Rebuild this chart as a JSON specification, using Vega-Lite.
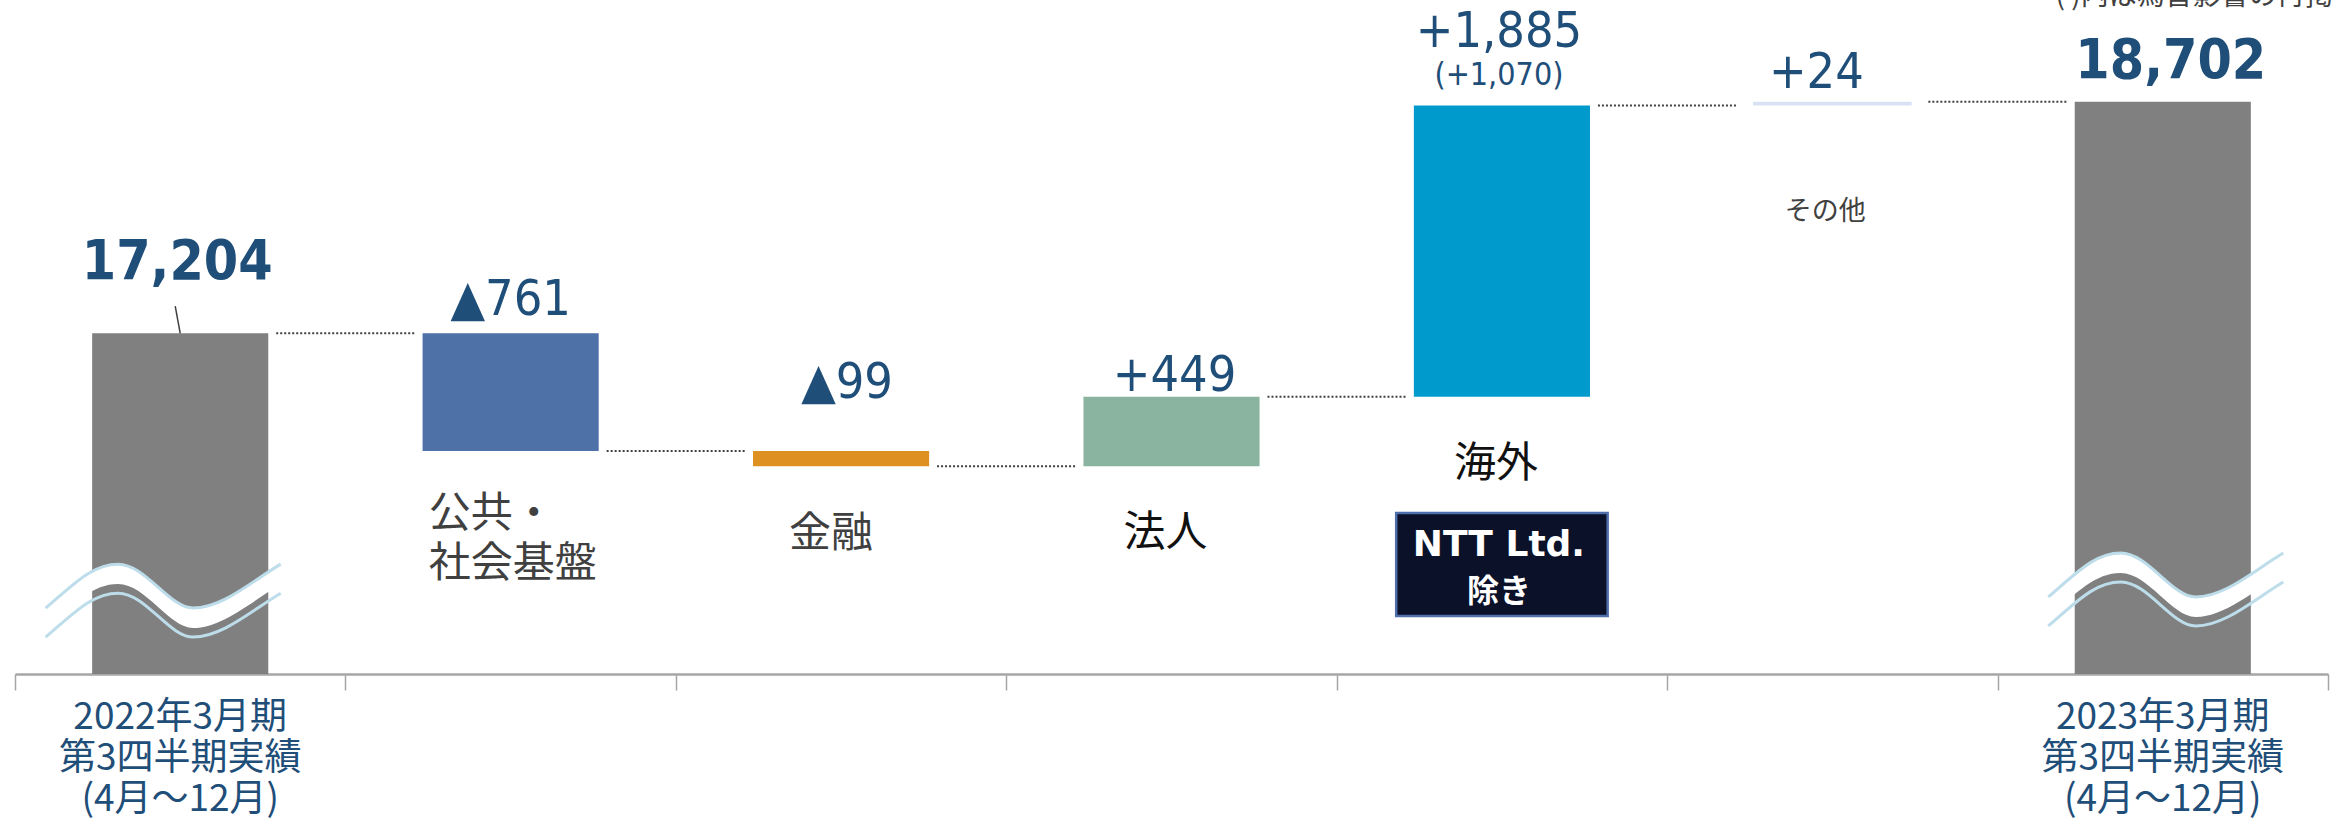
{
  "$schema": "https://vega.github.io/schema/vega-lite/v6.json",
  "width": 2313,
  "height": 674,
  "autosize": {"type": "none"},
  "padding": {"left": 15, "right": 15, "top": 0, "bottom": 147},
  "background": "white",
  "config": {"view": {"stroke": null}},
  "data": {"values": [
    {"key": "start", "kind": "total", "cat": "2022年3月期 第3四半期実績 (4月～12月)", "name": "2022年3月期 第3四半期実績 (4月～12月)", "lo": 0, "hi": 17204, "end": 17204, "label": "17,204", "next": "公共・社会基盤"},
    {"key": "public", "kind": "delta", "cat": "公共・社会基盤", "name": "公共・\n社会基盤", "lo": 16443, "hi": 17204, "end": 16443, "label": "▲761", "next": "金融"},
    {"key": "finance", "kind": "delta", "cat": "金融", "name": "金融", "lo": 16344, "hi": 16443, "end": 16344, "label": "▲99", "next": "法人"},
    {"key": "corp", "kind": "delta", "cat": "法人", "name": "法人", "lo": 16344, "hi": 16793, "end": 16793, "label": "+449", "next": "海外"},
    {"key": "overseas", "kind": "delta", "cat": "海外", "name": "海外", "lo": 16793, "hi": 18678, "end": 18678, "label": "+1,885", "sub": "(+1,070)", "note1": "NTT Ltd.", "note2": "除き", "next": "その他"},
    {"key": "other", "kind": "delta", "cat": "その他", "name": "その他", "lo": 18678, "hi": 18702, "end": 18702, "label": "+24", "next": "2023年3月期 第3四半期実績 (4月～12月)"},
    {"key": "end", "kind": "total", "cat": "2023年3月期 第3四半期実績 (4月～12月)", "name": "2023年3月期 第3四半期実績 (4月～12月)", "lo": 0, "hi": 18702, "end": 18702, "label": "18,702", "note": "( )内は為替影響の再掲"}
  ]},
  "encoding": {
    "x": {
      "field": "cat", "type": "nominal", "title": null,
      "scale": {"domain": ["2022年3月期 第3四半期実績 (4月～12月)", "公共・社会基盤", "金融", "法人", "海外", "その他", "2023年3月期 第3四半期実績 (4月～12月)"], "paddingInner": 0, "paddingOuter": 0},
      "axis": {
        "title": null, "grid": false, "labels": false, "tickBand": "extent", "tickSize": 16, "tickColor": "#A6A6A6", "tickWidth": 1.5,
        "domainColor": "#A6A6A6", "domainWidth": 2.5
      }
    }
  },
  "layer": [
    {
      "transform": [{"filter": "datum.key != 'other'"}],
      "mark": {"type": "bar", "width": {"band": 0.533}},
      "encoding": {
        "y": {"field": "hi", "type": "quantitative", "scale": {"domain": [15000, 19360], "zero": false, "nice": false, "clamp": true}, "axis": null},
        "y2": {"field": "lo"},
        "color": {"field": "key", "type": "nominal", "legend": null, "scale": {"domain": ["start", "public", "finance", "corp", "overseas", "other", "end"], "range": ["#808080", "#4E71A7", "#DE9120", "#8AB4A0", "#009BCC", "#D9E1F4", "#808080"]}}
      }
    },
    {
      "transform": [{"filter": "datum.key == 'other'"}],
      "mark": {"type": "bar", "width": {"band": 0.48}, "color": "#D9E1F4"},
      "encoding": {
        "y": {"field": "hi", "type": "quantitative", "axis": null},
        "y2": {"field": "lo"}
      }
    },
    {
      "transform": [{"filter": "isValid(datum.next)"}],
      "mark": {"type": "rule", "color": "#404040", "strokeWidth": 2, "strokeDash": [2, 2], "xOffset": 96, "x2Offset": -96},
      "encoding": {
        "x2": {"field": "next", "bandPosition": 0.5},
        "y": {"field": "end", "type": "quantitative", "axis": null}
      }
    },
    {
      "transform": [{"filter": "datum.key == 'start'"}],
      "mark": {"type": "point", "filled": true, "fill": "white", "strokeWidth": 0, "opacity": 1, "size": 55225, "xOffset": -17,
        "shape": "M -1 0.064 C -0.75 -0.15 -0.6 -0.31 -0.383 -0.31 C -0.15 -0.31 0.05 0.064 0.255 0.064 C 0.5 0.064 0.75 -0.16 1 -0.31 L 1 -0.14 C 0.75 0.01 0.5 0.234 0.255 0.234 C 0.05 0.234 -0.15 -0.14 -0.383 -0.14 C -0.6 -0.14 -0.75 0.02 -1 0.234 Z"},
      "encoding": {"y": {"datum": 15475, "type": "quantitative", "axis": null}}
    },
    {
      "transform": [{"filter": "datum.key == 'start'"}],
      "mark": {"type": "point", "filled": false, "stroke": "#BDDDEA", "strokeWidth": 3, "opacity": 1, "size": 55225, "xOffset": -17,
        "shape": "M -1 0.064 C -0.75 -0.15 -0.6 -0.31 -0.383 -0.31 C -0.15 -0.31 0.05 0.064 0.255 0.064 C 0.5 0.064 0.75 -0.16 1 -0.31 M -1 0.311 C -0.75 0.097 -0.6 -0.063 -0.383 -0.063 C -0.15 -0.063 0.05 0.311 0.255 0.311 C 0.5 0.311 0.75 0.087 1 -0.063"},
      "encoding": {"y": {"datum": 15475, "type": "quantitative", "axis": null}}
    },
    {
      "transform": [{"filter": "datum.key == 'end'"}],
      "mark": {"type": "point", "filled": true, "fill": "white", "strokeWidth": 0, "opacity": 1, "size": 55225, "xOffset": 3,
        "shape": "M -1 0.064 C -0.75 -0.15 -0.6 -0.31 -0.383 -0.31 C -0.15 -0.31 0.05 0.064 0.255 0.064 C 0.5 0.064 0.75 -0.16 1 -0.31 L 1 -0.14 C 0.75 0.01 0.5 0.234 0.255 0.234 C 0.05 0.234 -0.15 -0.14 -0.383 -0.14 C -0.6 -0.14 -0.75 0.02 -1 0.234 Z"},
      "encoding": {"y": {"datum": 15547, "type": "quantitative", "axis": null}}
    },
    {
      "transform": [{"filter": "datum.key == 'end'"}],
      "mark": {"type": "point", "filled": false, "stroke": "#BDDDEA", "strokeWidth": 3, "opacity": 1, "size": 55225, "xOffset": 3,
        "shape": "M -1 0.064 C -0.75 -0.15 -0.6 -0.31 -0.383 -0.31 C -0.15 -0.31 0.05 0.064 0.255 0.064 C 0.5 0.064 0.75 -0.16 1 -0.31 M -1 0.311 C -0.75 0.097 -0.6 -0.063 -0.383 -0.063 C -0.15 -0.063 0.05 0.311 0.255 0.311 C 0.5 0.311 0.75 0.087 1 -0.063"},
      "encoding": {"y": {"datum": 15547, "type": "quantitative", "axis": null}}
    },
    {
      "transform": [{"filter": "datum.key == 'start'"}],
      "mark": {"type": "rule", "color": "#404040", "strokeWidth": 1.5, "x2Offset": -5},
      "encoding": {
        "x2": {"field": "cat", "bandPosition": 0.5},
        "y": {"field": "hi", "type": "quantitative", "axis": null},
        "y2": {"datum": 17380}
      }
    },
    {
      "transform": [{"filter": "datum.kind == 'total'"}],
      "mark": {"type": "text", "font": "Noto Sans CJK JP", "fontSize": 37, "color": "#1F4E79", "align": "center", "baseline": "top", "lineBreak": " ", "lineHeight": 41, "dy": 26},
      "encoding": {"y": {"datum": 15000, "type": "quantitative", "axis": null}, "text": {"field": "name"}}
    },
    {
      "transform": [{"filter": "datum.key == 'start'"}],
      "mark": {"type": "text", "font": "DejaVu Sans Condensed", "fontWeight": "bold", "fontSize": 55, "color": "#1F4E79", "align": "center", "baseline": "alphabetic", "dy": -54, "dx": -3},
      "encoding": {"y": {"field": "hi", "type": "quantitative", "axis": null}, "text": {"field": "label"}}
    },
    {
      "transform": [{"filter": "datum.key == 'end'"}],
      "mark": {"type": "text", "font": "DejaVu Sans Condensed", "fontWeight": "bold", "fontSize": 55, "color": "#1F4E79", "align": "center", "baseline": "alphabetic", "dy": -24, "dx": 8},
      "encoding": {"y": {"field": "hi", "type": "quantitative", "axis": null}, "text": {"field": "label"}}
    },
    {
      "transform": [{"filter": "datum.key == 'end'"}],
      "mark": {"type": "text", "font": "Noto Sans CJK JP", "fontSize": 28, "color": "#404040", "align": "right", "baseline": "middle", "dy": -3, "dx": 170},
      "encoding": {"y": {"datum": 19360, "type": "quantitative", "axis": null}, "text": {"field": "note"}}
    },
    {
      "transform": [{"filter": "datum.key == 'public'"}],
      "mark": {"type": "text", "font": "DejaVu Sans Condensed", "fontSize": 50, "color": "#1F4E79", "align": "center", "baseline": "alphabetic", "dy": -18},
      "encoding": {"y": {"field": "hi", "type": "quantitative", "axis": null}, "text": {"field": "label"}}
    },
    {
      "transform": [{"filter": "datum.key == 'finance'"}],
      "mark": {"type": "text", "font": "DejaVu Sans Condensed", "fontSize": 50, "color": "#1F4E79", "align": "center", "baseline": "alphabetic", "dy": -53, "dx": 6},
      "encoding": {"y": {"field": "hi", "type": "quantitative", "axis": null}, "text": {"field": "label"}}
    },
    {
      "transform": [{"filter": "datum.key == 'corp'"}],
      "mark": {"type": "text", "font": "DejaVu Sans Condensed", "fontSize": 50, "color": "#1F4E79", "align": "center", "baseline": "alphabetic", "dy": -6, "dx": 3},
      "encoding": {"y": {"field": "hi", "type": "quantitative", "axis": null}, "text": {"field": "label"}}
    },
    {
      "transform": [{"filter": "datum.key == 'overseas'"}],
      "mark": {"type": "text", "font": "DejaVu Sans Condensed", "fontSize": 50, "color": "#1F4E79", "align": "center", "baseline": "alphabetic", "dy": -58, "dx": -3},
      "encoding": {"y": {"field": "hi", "type": "quantitative", "axis": null}, "text": {"field": "label"}}
    },
    {
      "transform": [{"filter": "datum.key == 'overseas'"}],
      "mark": {"type": "text", "font": "DejaVu Sans Condensed", "fontSize": 32, "color": "#1F4E79", "align": "center", "baseline": "alphabetic", "dy": -20, "dx": -3},
      "encoding": {"y": {"field": "hi", "type": "quantitative", "axis": null}, "text": {"field": "sub"}}
    },
    {
      "transform": [{"filter": "datum.key == 'other'"}],
      "mark": {"type": "text", "font": "DejaVu Sans Condensed", "fontSize": 50, "color": "#1F4E79", "align": "center", "baseline": "alphabetic", "dy": -14, "dx": -16},
      "encoding": {"y": {"field": "hi", "type": "quantitative", "axis": null}, "text": {"field": "label"}}
    },
    {
      "transform": [{"filter": "datum.key == 'public'"}],
      "mark": {"type": "text", "font": "Noto Sans CJK JP", "fontSize": 42, "color": "#404040", "align": "left", "baseline": "top", "lineBreak": "\n", "lineHeight": 50, "dy": 43, "dx": -82},
      "encoding": {"y": {"field": "lo", "type": "quantitative", "axis": null}, "text": {"field": "name"}}
    },
    {
      "transform": [{"filter": "datum.key == 'finance'"}],
      "mark": {"type": "text", "font": "Noto Sans CJK JP", "fontSize": 42, "color": "#404040", "align": "center", "baseline": "middle", "dy": 68, "dx": -10},
      "encoding": {"y": {"field": "lo", "type": "quantitative", "axis": null}, "text": {"field": "name"}}
    },
    {
      "transform": [{"filter": "datum.key == 'corp' || datum.key == 'overseas'"}],
      "mark": {"type": "text", "font": "Noto Sans CJK JP", "fontSize": 42, "color": "#111111", "align": "center", "baseline": "middle", "dy": 67, "dx": -6},
      "encoding": {"y": {"field": "lo", "type": "quantitative", "axis": null}, "text": {"field": "name"}}
    },
    {
      "transform": [{"filter": "datum.key == 'other'"}],
      "mark": {"type": "text", "font": "Noto Sans CJK JP", "fontSize": 27, "color": "#404040", "align": "center", "baseline": "middle", "dy": 107, "dx": -7},
      "encoding": {"y": {"field": "lo", "type": "quantitative", "axis": null}, "text": {"field": "name"}}
    },
    {
      "transform": [{"filter": "datum.key == 'overseas'"}],
      "mark": {"type": "bar", "width": {"band": 0.64}, "fill": "#0A1128", "stroke": "#4F6FAA", "strokeWidth": 2.5},
      "encoding": {
        "y": {"datum": 16041, "type": "quantitative", "axis": null},
        "y2": {"datum": 15375}
      }
    },
    {
      "transform": [{"filter": "datum.key == 'overseas'"}],
      "mark": {"type": "text", "font": "DejaVu Sans", "fontWeight": "bold", "fontSize": 36, "color": "white", "align": "center", "baseline": "middle", "dy": 148, "dx": -3},
      "encoding": {"y": {"field": "lo", "type": "quantitative", "axis": null}, "text": {"field": "note1"}}
    },
    {
      "transform": [{"filter": "datum.key == 'overseas'"}],
      "mark": {"type": "text", "font": "Noto Sans CJK JP", "fontWeight": "bold", "fontSize": 32, "color": "white", "align": "center", "baseline": "middle", "dy": 195, "dx": -3},
      "encoding": {"y": {"field": "lo", "type": "quantitative", "axis": null}, "text": {"field": "note2"}}
    }
  ]
}
